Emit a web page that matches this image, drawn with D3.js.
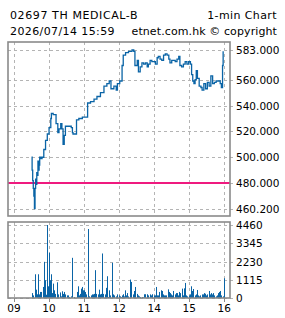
<!DOCTYPE html>
<html>
<head>
<meta charset="utf-8">
<script src="https://cdn.jsdelivr.net/npm/d3@7"></script>
<style>
  html, body { margin: 0; padding: 0; background: #fff; }
  svg { display: block; }
  text { font-family: "DejaVu Sans", sans-serif; fill: #000; }
</style>
</head>
<body>
<div id="chart"></div>
<script>
'use strict';

/*** Data */
const title = "02697 TH MEDICAL-B";
const subTitle = "1-min Chart";
const stamp = "2026/07/14 15:59";
const credit = "etnet.com.hk \u00a9 copyright";
const prevClose = 480;

/** Axis ticks */
const hourTicks = ["09:00", "10:00", "11:00", "12:00", "14:00", "15:00", "16:00"];
const hourLabels = ["09", "10", "11", "12", "14", "15", "16"];
const priceTicks = [583, 560, 540, 520, 500, 480, 460.2];
const volTicks = [4460, 3345, 2230, 1115, 0];

/** Price line */
const priceTimes = [
  "09:30","09:31","09:32","09:33","09:34","09:35","09:36","09:37","09:38","09:39",
  "09:40","09:41","09:42","09:43","09:44","09:46","09:48","09:51","09:54","09:57",
  "10:00","10:03","10:04","10:07","10:11","10:12","10:15","10:17","10:20","10:22",
  "10:24","10:26","10:28","10:31","10:34","10:38","10:40","10:41","10:45","10:47",
  "10:51","10:54","10:57","11:04","11:06","11:11","11:17","11:22","11:28","11:34",
  "11:39","11:43","11:46","11:51","11:55","11:57","13:01","13:03","13:05","13:07",
  "13:11","13:16","13:22","13:25","13:27","13:31","13:33","13:36","13:39","13:42",
  "13:45","13:48","13:50","13:53","13:56","13:59","14:02","14:05","14:07","14:10",
  "14:13","14:16","14:19","14:22","14:25","14:27","14:30","14:33","14:36","14:39",
  "14:42","14:44","14:47","14:50","14:53","14:56","14:59","15:02","15:04","15:06",
  "15:08","15:10","15:12","15:14","15:17","15:20","15:22","15:25","15:28","15:31",
  "15:34","15:37","15:40","15:43","15:46","15:50","15:53","15:55","15:57","15:58"
];
const priceValues = [
  500,490,482,476,470,460.2,476,483,479,488,
  486,497,490,494,500,499,500,506,513,518,
  523,530,534,533,533,526,519,522,526,522,
  510,517,524,524,524,523,519,518,518,529,
  530,530,531,531,542,543,545,547,550,555,
  557,559,553,555,552,557,559,559,571,579,
  581,582,583,582,571,575,566,570,573,572,
  573,570,572,575,574,574,572,577,578,576,
  575,579,580,579,576,573,575,575,574,576,
  578,571,570,572,574,572,574,572,564,559,
  557,560,567,561,555,554,552,557,553,558,
  555,563,557,558,559,559,557,554,571,582
];

/** Volume bars */
const volTimes = [
  "09:30","09:32","09:36","09:37","09:39","09:41","09:43","09:45","09:47","09:50",
  "09:52","09:53","09:54","09:56","09:57","09:59","10:00","10:01","10:03","10:04",
  "10:05","10:06","10:08","10:09","10:11","10:13","10:14","10:16","10:18","10:20",
  "10:22","10:24","10:26","10:28","10:30","10:33","10:35","10:38","10:40","10:42",
  "10:47","10:49","10:51","10:53","10:54","10:56","10:58","11:00","11:02","11:04",
  "11:06","11:07","11:09","11:11","11:13","11:15","11:17","11:19","11:21","11:23",
  "11:25","11:27","11:29","11:31","11:33","11:35","11:37","11:39","11:41","11:43",
  "11:45","11:47","11:50","11:52","11:54","11:56","11:59","13:01","13:03","13:05",
  "13:07","13:08","13:10","13:12","13:14","13:16","13:19","13:21","13:23","13:25",
  "13:27","13:30","13:32","13:34","13:36","13:39","13:41","13:43","13:45","13:47",
  "13:49","13:52","13:55","13:57","13:59","14:01","14:03","14:05","14:07","14:09",
  "14:11","14:13","14:15","14:17","14:19","14:21","14:23","14:25","14:27","14:29",
  "14:31","14:33","14:35","14:37","14:39","14:41","14:43","14:45","14:47","14:49",
  "14:51","14:53","14:55","14:57","14:59","15:01","15:03","15:05","15:07","15:09",
  "15:11","15:13","15:15","15:17","15:19","15:21","15:23","15:25","15:27","15:29",
  "15:31","15:33","15:35","15:37","15:39","15:41","15:43","15:45","15:47","15:49",
  "15:51","15:53","15:55","15:57","15:59"
];
const volValues = [
  300,160,1450,510,225,1450,220,370,370,675,
  2210,1085,200,4460,1085,715,2760,1085,300,1450,
  300,880,160,470,250,675,960,220,340,100,
  410,250,370,220,160,160,60,100,2455,60,
  370,715,160,250,573,675,470,470,370,220,
  250,4215,100,160,220,220,250,1700,250,220,
  510,220,250,2720,250,220,620,1330,60,470,
  160,2150,220,160,100,220,160,100,60,160,
  230,100,470,160,300,100,1125,980,220,430,
  675,250,160,100,60,60,40,230,230,230,
  160,220,160,230,160,160,675,160,160,370,
  470,430,220,160,160,160,530,370,300,220,
  160,430,220,300,300,160,370,300,573,160,
  590,920,160,100,160,220,715,430,550,160,
  220,490,160,100,160,220,220,300,260,160,
  220,430,220,300,220,300,160,100,160,300,
  370,430,160,100,1207
];

/*** Layout */
const w = 285;
const h = 318;
const left = 8;
const right = 230;
const priceTop = 42, priceBottom = 216;
const volTop = 222, volBottom = 298;

const lineColor = "#0a64a6";
const gridColor = "#b4b4b4";
const frameColor = "#8a8a8a";

/* "HH:MM" -> trading minutes since 09:00, lunch hour removed */
const tradeMin = (t) => {
  const [hh, mm] = t.split(":").map(Number);
  let m = (hh - 9) * 60 + mm;
  if (hh >= 13) m -= 60;
  return m;
};

const xScale = d3.scaleLinear().domain([0, 360]).range([14, 224.3]);
const yPrice = d3.scaleLinear().domain([460.2, 583]).range([208.7, 50]);
const yVol = d3.scaleLinear().domain([0, 4460]).range([volBottom, 225]);

const svg = d3.select("#chart")
  .append("svg")
  .attr("width", w)
  .attr("height", h);

/** Header text */
svg.append("text").attr("x", 10).attr("y", 18.5)
  .style("font-size", "11px").style("letter-spacing", "0.6px").text(title);
svg.append("text").attr("x", 277).attr("y", 18.5).attr("text-anchor", "end")
  .style("font-size", "11px").style("letter-spacing", "0.4px").text(subTitle);
svg.append("text").attr("x", 10).attr("y", 34.5)
  .style("font-size", "11px").style("letter-spacing", "0.4px").text(stamp);
svg.append("text").attr("x", 277).attr("y", 34.5).attr("text-anchor", "end")
  .style("font-size", "11px").style("letter-spacing", "0.1px").text(credit);

/** Grids */
const gridV = (top, bottom) => {
  svg.append("g").selectAll("line")
    .data(hourTicks)
    .join("line")
    .attr("x1", d => Math.round(xScale(tradeMin(d))) + 0.5)
    .attr("x2", d => Math.round(xScale(tradeMin(d))) + 0.5)
    .attr("y1", top).attr("y2", bottom)
    .attr("stroke", gridColor).attr("stroke-dasharray", "3,3");
};
gridV(priceTop, priceBottom);
gridV(volTop, volBottom);

svg.append("g").selectAll("line")
  .data(priceTicks)
  .join("line")
  .attr("x1", left).attr("x2", right + 4)
  .attr("y1", d => Math.round(yPrice(d)) + 0.5)
  .attr("y2", d => Math.round(yPrice(d)) + 0.5)
  .attr("stroke", gridColor).attr("stroke-dasharray", "3,3");

svg.append("g").selectAll("line")
  .data(volTicks)
  .join("line")
  .attr("x1", left).attr("x2", right + 4)
  .attr("y1", d => Math.round(yVol(d)) + 0.5)
  .attr("y2", d => Math.round(yVol(d)) + 0.5)
  .attr("stroke", gridColor).attr("stroke-dasharray", "3,3");

/** Previous close */
svg.append("line")
  .attr("x1", left).attr("x2", right)
  .attr("y1", yPrice(prevClose)).attr("y2", yPrice(prevClose))
  .attr("stroke", "#ef1a7f").attr("stroke-width", 2);

/** Price line */
const priceData = priceTimes.map((t, i) => ({ m: tradeMin(t), v: priceValues[i] }));
svg.append("path")
  .datum(priceData)
  .attr("fill", "none")
  .attr("stroke", lineColor)
  .attr("stroke-width", 1.3)
  .attr("d", d3.line()
    .x(d => xScale(d.m))
    .y(d => yPrice(d.v))
    .curve(d3.curveStepAfter));

/** Volume bars */
svg.append("g").selectAll("rect")
  .data(volTimes.map((t, i) => ({ m: tradeMin(t), v: volValues[i] })))
  .join("rect")
  .attr("x", d => Math.round(xScale(d.m)))
  .attr("width", 1)
  .attr("y", d => yVol(d.v))
  .attr("height", d => volBottom - yVol(d.v))
  .attr("fill", lineColor);

/** Frames */
svg.append("rect").attr("x", left).attr("y", priceTop)
  .attr("width", right - left).attr("height", priceBottom - priceTop)
  .attr("fill", "none").attr("stroke", frameColor).attr("stroke-width", 1.6);
svg.append("rect").attr("x", left).attr("y", volTop)
  .attr("width", right - left).attr("height", volBottom - volTop)
  .attr("fill", "none").attr("stroke", frameColor).attr("stroke-width", 1.6);

/** Right axis labels */
svg.append("g").selectAll("text")
  .data(priceTicks)
  .join("text")
  .attr("x", 236).attr("y", d => yPrice(d) + 4)
  .style("font-size", "10.5px")
  .text(d => d3.format(".3f")(d));

svg.append("g").selectAll("text")
  .data(volTicks)
  .join("text")
  .attr("x", 236).attr("y", d => yVol(d) + 4)
  .style("font-size", "10.5px")
  .text(d => d);

/** Hour axis */
svg.append("g").selectAll("line")
  .data(hourTicks)
  .join("line")
  .attr("x1", d => Math.round(xScale(tradeMin(d))) + 0.5)
  .attr("x2", d => Math.round(xScale(tradeMin(d))) + 0.5)
  .attr("y1", volBottom).attr("y2", volBottom + 4)
  .attr("stroke", frameColor);

svg.append("g").selectAll("text")
  .data(hourTicks)
  .join("text")
  .attr("x", d => xScale(tradeMin(d)))
  .attr("y", 311.5)
  .attr("text-anchor", "middle")
  .style("font-size", "10.5px")
  .text((d, i) => hourLabels[i]);
</script>
</body>
</html>
